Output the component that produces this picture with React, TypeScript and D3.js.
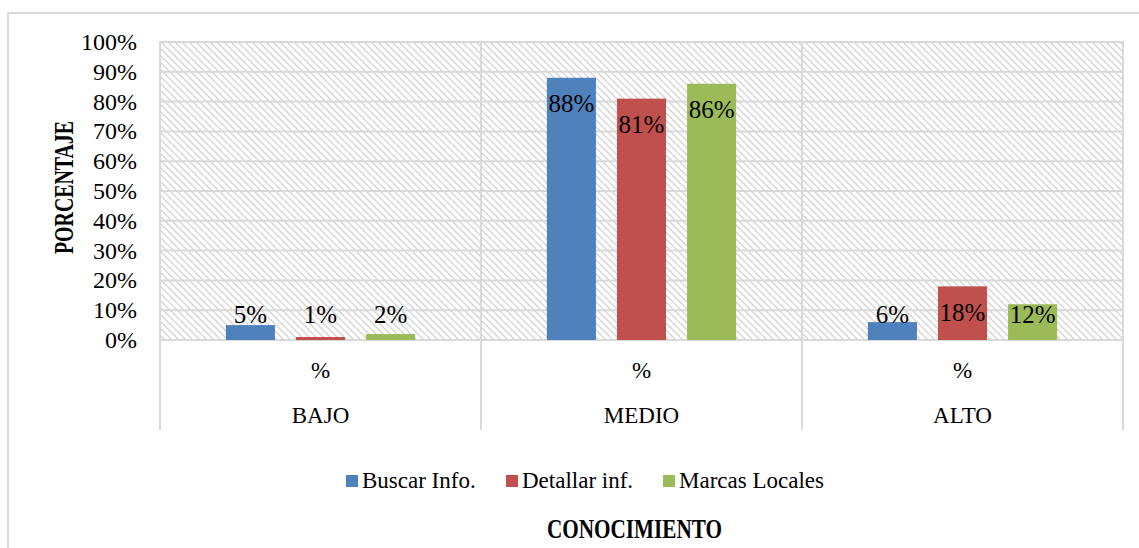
import React, { useEffect, useRef } from 'react';
import * as d3 from 'd3';

const categories = ['BAJO', 'MEDIO', 'ALTO'];
const subLabel = '%';
const series = ['Buscar Info.', 'Detallar inf.', 'Marcas Locales'];
const buscarInfo = [0.05, 0.88, 0.06];
const detallarInf = [0.01, 0.81, 0.18];
const marcasLocales = [0.02, 0.86, 0.12];
const seriesColors = ['#4F81BD', '#C0504D', '#9BBB59'];
const yTicks = [0, 0.1, 0.2, 0.3, 0.4, 0.5, 0.6, 0.7, 0.8, 0.9, 1];

function App() {
  const ref = useRef<HTMLDivElement>(null);

  useEffect(() => {
    const container = d3.select(ref.current);
    container.selectAll('*').remove();

    const W = 1139;
    const H = 548;
    const plot = { left: 160, right: 1123, top: 42, bottom: 340 };
    const axisBottom = 430; // end of the category separators
    const grid = '#d9d9d9';
    const font = '"Liberation Serif", "Times New Roman", serif';

    const values = [buscarInfo, detallarInf, marcasLocales];

    // absolute to the page so the body margin does not shift the chart
    const svg = container
      .append('svg')
      .attr('width', W)
      .attr('height', H)
      .style('position', 'absolute')
      .style('left', '0px')
      .style('top', '0px')
      .style('font-family', font);

    // hatch pattern for the plot background
    const pattern = svg.append('defs')
      .append('pattern')
      .attr('id', 'hatch')
      .attr('patternUnits', 'userSpaceOnUse')
      .attr('width', 7)
      .attr('height', 7);
    pattern.append('rect').attr('width', 7).attr('height', 7).attr('fill', '#fff');
    pattern.append('path')
      .attr('d', 'M-1,-1 L8,8 M-1,6 L1,8 M6,-1 L8,1')
      .attr('stroke', '#d4d4d4')
      .attr('stroke-width', 1.3);

    svg.append('rect').attr('width', W).attr('height', H).attr('fill', '#fff');

    // outer chart border (runs off the right and bottom edges)
    svg.append('rect')
      .attr('x', 8).attr('y', 13)
      .attr('width', W + 10).attr('height', H + 10)
      .attr('fill', 'none')
      .attr('stroke', grid)
      .attr('stroke-width', 2);

    const x0 = d3.scaleBand().domain(categories).range([plot.left, plot.right]).padding(0);
    const x1 = d3.scaleBand().domain(series).range([0, x0.bandwidth()])
      .paddingInner(0.3).paddingOuter(0.94);
    const y = d3.scaleLinear().domain([0, 1]).range([plot.bottom, plot.top]);

    svg.append('rect')
      .attr('x', plot.left).attr('y', plot.top)
      .attr('width', plot.right - plot.left).attr('height', plot.bottom - plot.top)
      .attr('fill', 'url(#hatch)')
      .attr('stroke', grid)
      .attr('stroke-width', 2);

    // horizontal gridlines
    svg.append('g')
      .selectAll('line')
      .data(yTicks)
      .join('line')
      .attr('x1', plot.left).attr('x2', plot.right)
      .attr('y1', d => y(d)).attr('y2', d => y(d))
      .attr('stroke', grid)
      .attr('stroke-width', 2);

    // category separators, through the plot and the label area
    const seps = categories.map(c => x0(c) as number).concat([plot.right]);
    svg.append('g')
      .selectAll('line')
      .data(seps)
      .join('line')
      .attr('x1', d => d).attr('x2', d => d)
      .attr('y1', plot.top).attr('y2', axisBottom)
      .attr('stroke', grid)
      .attr('stroke-width', 2);

    // y tick labels
    svg.append('g')
      .selectAll('text')
      .data(yTicks)
      .join('text')
      .attr('x', 137)
      .attr('y', d => y(d) + 8)
      .attr('text-anchor', 'end')
      .style('font-size', '24px')
      .style('fill', '#000')
      .text(d => d3.format('.0%')(d));

    // bars
    const cells = categories.flatMap((c, i) => series.map((s, j) => ({ c, s, j, v: values[j][i] })));
    svg.append('g')
      .selectAll('rect')
      .data(cells)
      .join('rect')
      .attr('x', d => (x0(d.c) as number) + (x1(d.s) as number))
      .attr('y', d => y(d.v))
      .attr('width', x1.bandwidth())
      .attr('height', d => y(0) - y(d.v))
      .attr('fill', d => seriesColors[d.j]);

    // data labels: inside end, pushed up when the bar is too short
    const labelOffset = 26;
    svg.append('g')
      .selectAll('text')
      .data(cells)
      .join('text')
      .attr('x', d => (x0(d.c) as number) + (x1(d.s) as number) + x1.bandwidth() / 2)
      .attr('y', d => Math.min(y(d.v) + labelOffset, y(0) - labelOffset) + 8.5)
      .attr('text-anchor', 'middle')
      .style('font-size', '25px')
      .style('fill', '#000')
      .text(d => d3.format('.0%')(d.v));

    // multi-level category labels
    const catG = svg.append('g');
    catG.selectAll('text.sub')
      .data(categories)
      .join('text')
      .attr('class', 'sub')
      .attr('x', d => (x0(d) as number) + x0.bandwidth() / 2)
      .attr('y', 378)
      .attr('text-anchor', 'middle')
      .style('font-size', '23px')
      .text(subLabel);
    catG.selectAll('text.cat')
      .data(categories)
      .join('text')
      .attr('class', 'cat')
      .attr('x', d => (x0(d) as number) + x0.bandwidth() / 2)
      .attr('y', 423)
      .attr('text-anchor', 'middle')
      .style('font-size', '23px')
      .text(d => d);

    // legend
    const legendX = [346, 506, 663];
    const legend = svg.append('g')
      .selectAll('g')
      .data(series)
      .join('g')
      .attr('transform', (d, i) => `translate(${legendX[i]},475)`);
    legend.append('rect')
      .attr('width', 12).attr('height', 12)
      .attr('fill', (d, i) => seriesColors[i]);
    legend.append('text')
      .attr('x', 16).attr('y', 13)
      .style('font-size', '23px')
      .text(d => d);

    // axis titles
    svg.append('text')
      .attr('transform', 'translate(73,187.5) rotate(-90)')
      .attr('text-anchor', 'middle')
      .attr('textLength', 133)
      .attr('lengthAdjust', 'spacingAndGlyphs')
      .style('font-size', '28px')
      .style('font-weight', 'bold')
      .text('PORCENTAJE');

    svg.append('text')
      .attr('x', 634.5)
      .attr('y', 538)
      .attr('text-anchor', 'middle')
      .attr('textLength', 175)
      .attr('lengthAdjust', 'spacingAndGlyphs')
      .style('font-size', '28px')
      .style('font-weight', 'bold')
      .text('CONOCIMIENTO');
  }, []);

  return <div ref={ref} style={{ width: 1139, height: 548 }} />;
}

export default App;
